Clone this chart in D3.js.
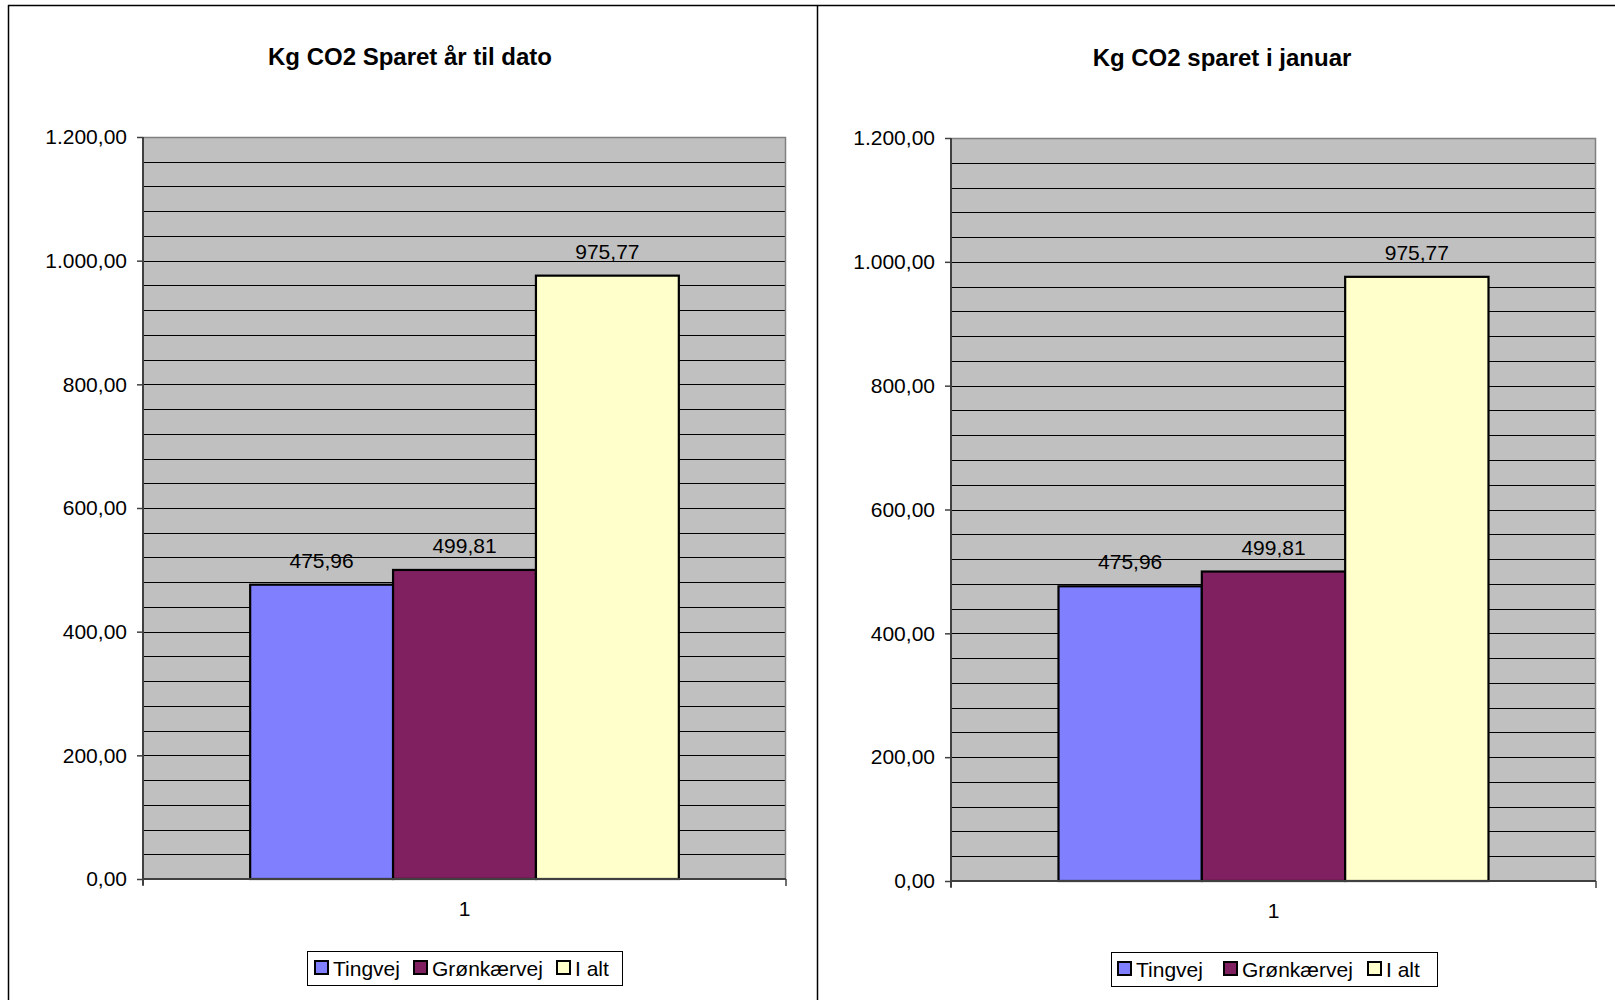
<!DOCTYPE html>
<html>
<head>
<meta charset="utf-8">
<script src="https://cdn.jsdelivr.net/npm/d3@7/dist/d3.min.js"></script>
<style>
  html, body { margin: 0; padding: 0; background: #fff; }
  svg { display: block; font-family: "Liberation Sans", Arial, sans-serif; }
</style>
</head>
<body>
<svg id="chart" width="1615" height="1000"></svg>
<script>
// ---- data ----
const categories = ["1"];
const seriesNames = ["Tingvej", "Grønkærvej", "I alt"];
const seriesColors = ["#8080FF", "#802060", "#FFFFCC"];
const valuesYearToDate = [475.96, 499.81, 975.77];
const valuesJanuary = [475.96, 499.81, 975.77];
const titles = ["Kg CO2 Sparet år til dato", "Kg CO2 sparet i januar"];
const yTickValues = [0, 200, 400, 600, 800, 1000, 1200];
const yMax = 1200;
const minorStep = 40;

// ---- layout ----
const panels = [
  { title: titles[0], values: valuesYearToDate,
    plot: { l: 143, r: 786, t: 137, b: 879 }, titleX: 410, titleY: 65,
    legend: { l: 307, t: 951, w: 315, h: 34, items: [7, 106, 249] } },
  { title: titles[1], values: valuesJanuary,
    plot: { l: 951, r: 1596, t: 138, b: 881 }, titleX: 1222, titleY: 66,
    legend: { l: 1111, t: 952, w: 326, h: 34, items: [6, 112, 256] } }
];

const locale = d3.formatLocale({ decimal: ",", thousands: ".", grouping: [3], currency: ["", " kr"] });
const fmt = locale.format(",.2f");

const svg = d3.select("#chart");

// outer chart-area frames
svg.append("line").attr("x1", 8.5).attr("x2", 8.5).attr("y1", 5).attr("y2", 1000).attr("stroke", "#000").attr("stroke-width", 1.5);
svg.append("line").attr("x1", 8).attr("x2", 1615).attr("y1", 5.5).attr("y2", 5.5).attr("stroke", "#000").attr("stroke-width", 1.5);
svg.append("line").attr("x1", 817.5).attr("x2", 817.5).attr("y1", 5).attr("y2", 1000).attr("stroke", "#000").attr("stroke-width", 1.5);

panels.forEach(p => {
  const g = svg.append("g");
  const P = p.plot;
  const y = d3.scaleLinear().domain([0, yMax]).range([P.b, P.t]);
  const x0 = d3.scaleBand().domain(categories).range([P.l, P.r]).paddingInner(0).paddingOuter(0);
  const x1 = d3.scaleBand().domain(seriesNames).range([0, x0.bandwidth()]).paddingInner(0).paddingOuter(0.75);

  // title
  g.append("text").attr("x", p.titleX).attr("y", p.titleY).attr("text-anchor", "middle")
    .attr("font-size", 24).attr("font-weight", "bold").attr("fill", "#000").text(p.title);

  // plot background
  g.append("rect").attr("x", P.l).attr("y", P.t).attr("width", P.r - P.l).attr("height", P.b - P.t)
    .attr("fill", "#C0C0C0");

  // gridlines
  const grid = d3.range(minorStep, yMax, minorStep);
  g.append("g").selectAll("line").data(grid).join("line")
    .attr("x1", P.l).attr("x2", P.r)
    .attr("y1", d => Math.round(y(d)) + 0.5).attr("y2", d => Math.round(y(d)) + 0.5)
    .attr("stroke", "#000").attr("stroke-width", 1);

  // plot border (top & right gray)
  g.append("path").attr("d", `M${P.l},${P.t + 0.5}H${P.r - 0.5}V${P.b}`)
    .attr("fill", "none").attr("stroke", "#808080").attr("stroke-width", 1.5);

  // bars
  g.append("g").selectAll("rect").data(p.values.map((v, i) => ({ v, s: seriesNames[i], c: seriesColors[i] })))
    .join("rect")
    .attr("x", d => x0(categories[0]) + x1(d.s))
    .attr("y", d => y(d.v))
    .attr("width", x1.bandwidth())
    .attr("height", d => y(0) - y(d.v))
    .attr("fill", d => d.c)
    .attr("stroke", "#000").attr("stroke-width", 2.2);

  // data labels
  g.append("g").selectAll("text").data(p.values.map((v, i) => ({ v, s: seriesNames[i] })))
    .join("text")
    .attr("x", d => x0(categories[0]) + x1(d.s) + x1.bandwidth() / 2)
    .attr("y", d => y(d.v) - 17)
    .attr("text-anchor", "middle").attr("font-size", 21).attr("fill", "#000")
    .text(d => fmt(d.v));

  // y axis
  const yAxis = d3.axisLeft(y).tickValues(yTickValues).tickFormat(fmt).tickSize(6).tickPadding(10);
  const ya = g.append("g").attr("transform", `translate(${P.l},0)`).call(yAxis);
  ya.select(".domain").attr("stroke", "#404040").attr("stroke-width", 2).attr("d", `M0,${P.t}V${P.b + 6}`);
  ya.selectAll(".tick line").attr("stroke", "#404040").attr("stroke-width", 1.5);
  ya.selectAll(".tick text").attr("font-size", 21).attr("fill", "#000")
    .attr("font-family", "Liberation Sans, Arial, sans-serif");

  // x axis
  const xAxis = d3.axisBottom(x0).tickSize(0).tickPadding(22);
  const xa = g.append("g").attr("transform", `translate(0,${P.b})`).call(xAxis);
  xa.select(".domain").attr("stroke", "#404040").attr("stroke-width", 2).attr("d", `M${P.l},0H${P.r}`);
  xa.selectAll(".tick text").attr("font-size", 21).attr("fill", "#000")
    .attr("font-family", "Liberation Sans, Arial, sans-serif");
  // category boundary tick marks
  xa.append("g").selectAll("line").data([x0.range()[0], x0.range()[1]]).join("line")
    .attr("x1", d => d).attr("x2", d => d).attr("y1", 0).attr("y2", 7)
    .attr("stroke", "#404040").attr("stroke-width", 1.5);

  // legend
  const L = p.legend;
  const lg = g.append("g").attr("transform", `translate(${L.l},${L.t})`);
  lg.append("rect").attr("x", 0.5).attr("y", 0.5).attr("width", L.w).attr("height", L.h)
    .attr("fill", "#fff").attr("stroke", "#000").attr("stroke-width", 1);
  const items = lg.selectAll("g.item").data(seriesNames).join("g").attr("class", "item")
    .attr("transform", (d, i) => `translate(${L.items[i]},0)`);
  items.append("rect").attr("x", 1).attr("y", 10).attr("width", 13).attr("height", 13)
    .attr("fill", (d, i) => seriesColors[i]).attr("stroke", "#000").attr("stroke-width", 2);
  items.append("text").attr("x", 19).attr("y", 24.5).attr("font-size", 21).attr("fill", "#000").text(d => d);
});
</script>
</body>
</html>
